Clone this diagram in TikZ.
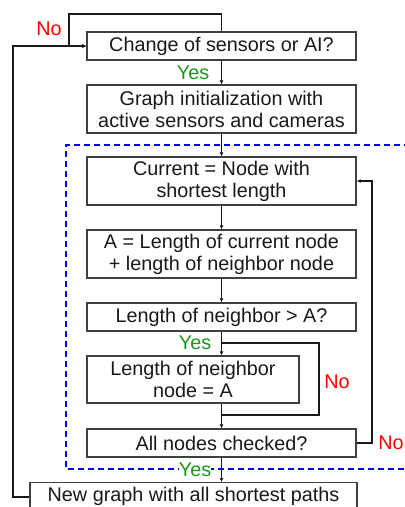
\documentclass[tikz,border=0pt]{standalone}
\usepackage{fontspec}
\setmainfont{Liberation Sans}
\usetikzlibrary{arrows.meta}
\definecolor{boxgray}{RGB}{64,64,64}
\definecolor{yesgreen}{RGB}{30,150,30}
\begin{document}
\begin{tikzpicture}[x=1pt,y=1pt,
  box/.style={draw=boxgray, line width=1.3pt, rectangle, inner sep=0pt, align=center,
    font=\fontsize{19.8}{22}\selectfont, text=black!90},
  arr/.style={draw=black!90, line width=1.3pt, -{Latex[length=4pt,width=4pt]}},
  ln/.style={draw=black!90, line width=1.3pt},
  yes/.style={text=yesgreen, font=\fontsize{19.8}{22}\selectfont, inner sep=0.5pt},
  no/.style={text=red, font=\fontsize{19.8}{22}\selectfont, inner sep=0.5pt}]
\useasboundingbox (0,0) rectangle (405,-507);
\clip (0,0) rectangle (405,-507);
% dashed region
\draw[blue, line width=1.4pt, dash pattern=on 6pt off 4pt] (420,-145) -- (66,-145) -- (66,-469) -- (420,-469);
% boxes
\node[box, minimum width=269pt, minimum height=28pt] (b1) at (221.5,-46) {Change of sensors or AI?};
\node[box, minimum width=269pt, minimum height=48pt] (b2) at (221.5,-109) {Graph initialization with\\active sensors and cameras};
\node[box, minimum width=269pt, minimum height=48pt] (b3) at (221.5,-181) {Current = Node with\\shortest length};
\node[box, minimum width=269pt, minimum height=48pt] (b4) at (221.5,-254) {A = Length of current node\\+ length of neighbor node};
\node[box, minimum width=269pt, minimum height=28pt] (b5) at (221.5,-317) {Length of neighbor > A?};
\node[box, minimum width=212pt, minimum height=47pt] (b6) at (193,-379.5) {Length of neighbor\\node = A};
\node[box, minimum width=269pt, minimum height=28pt] (b7) at (221.5,-443) {All nodes checked?};
\node[box, minimum width=327pt, minimum height=28pt, anchor=north] (b8) at (193.5,-482) {New graph with all shortest paths};
% coordinates
\coordinate (tl) at (69,-14);
\coordinate (ol) at (13,-497);
\coordinate (br) at (b5.south |- 0,-343);
\coordinate (brr) at (319,-343);
\coordinate (jn) at (b5.south |- 0,-415);
\coordinate (rl) at (372,-443);
% connectors
\draw[arr] (b1.north) |- (tl) |- (b1.west);
\draw[arr] (b8.west |- ol) -- (ol) |- (b1.west);
\draw[arr] (b1.south) -- (b2.north);
\draw[arr] (b2.south) -- (b3.north);
\draw[arr] (b3.south) -- (b4.north);
\draw[arr] (b4.south) -- (b5.north);
\draw[arr] (b5.south) -- (b5.south |- b6.north);
\draw[ln] (br) -- (brr) |- (jn);
\draw[arr] (b5.south |- b6.south) -- (b7.north);
\draw[arr] (b7.east) -- (rl) |- (b3.east);
% labels
\node[no] (n1) at (49,-29) {No};
\node[yes] (y1) at (193,-73) {Yes};
\node[yes] (y2) at (195,-343) {Yes};
\node[no] (n2) at (337,-382) {No};
\node[no] (n3) at (391,-443) {No};
\node[yes, fill=white, inner sep=0pt] (y3) at (195,-470) {Yes};
\draw[arr] (b7.south) -- (b7.south |- b8.north);
\end{tikzpicture}
\end{document}
